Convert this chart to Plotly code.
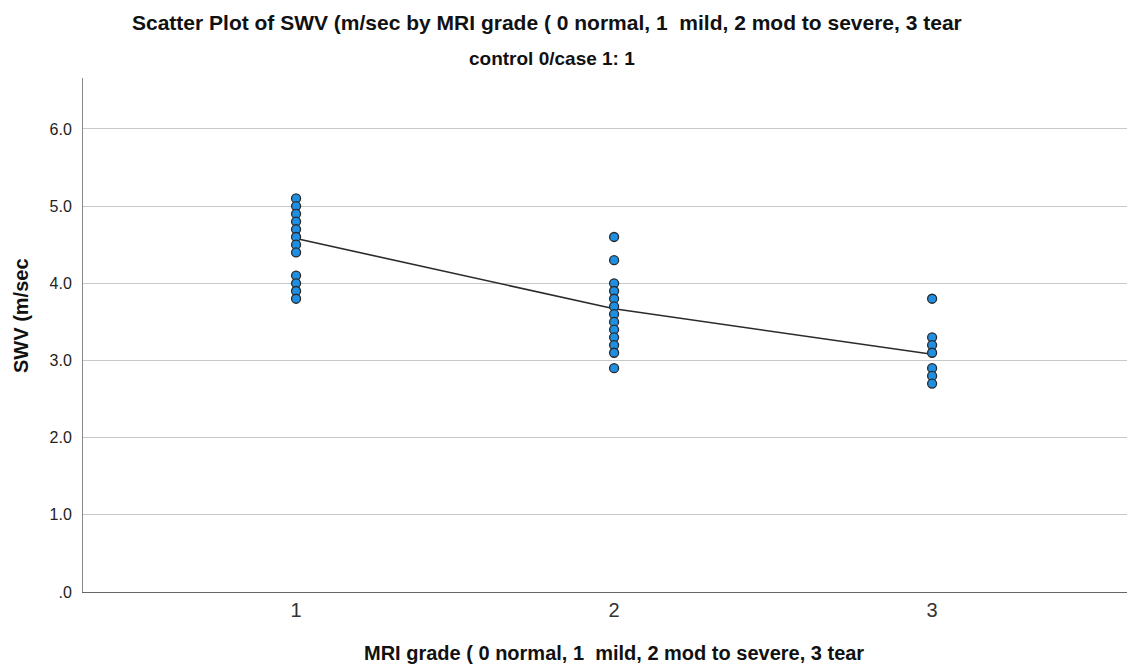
import plotly.graph_objects as go

grade1_swv = [5.1, 5.0, 4.9, 4.8, 4.7, 4.6, 4.5, 4.4, 4.1, 4.0, 3.9, 3.8]
grade2_swv = [4.6, 4.3, 4.0, 3.9, 3.8, 3.7, 3.6, 3.5, 3.4, 3.3, 3.2, 3.1, 2.9]
grade3_swv = [3.8, 3.3, 3.2, 3.1, 2.9, 2.8, 2.7]
grades = [1, 2, 3]
line_values = [4.58, 3.67, 3.08]
y_tickvals = [0, 1, 2, 3, 4, 5, 6]
y_ticktext = [".0", "1.0", "2.0", "3.0", "4.0", "5.0", "6.0"]
x_ticktext = ["1", "2", "3"]

xs, ys = [], []
for g, vals in zip(grades, [grade1_swv, grade2_swv, grade3_swv]):
    xs += [g] * len(vals)
    ys += vals

fig = go.Figure()
fig.add_trace(go.Scatter(x=grades, y=line_values, mode="lines",
                         line=dict(color="#2b2b2b", width=1.6), hoverinfo="skip"))
fig.add_trace(go.Scatter(x=xs, y=ys, mode="markers",
                         marker=dict(size=9, color="#1e8fe3",
                                     line=dict(color="#2a2a2a", width=1.3))))

fig.update_layout(
    width=1127, height=660,
    margin=dict(l=75, r=0, t=70, b=76),
    paper_bgcolor="white", plot_bgcolor="white",
    showlegend=False,
    font=dict(family="Liberation Sans, Arial, sans-serif", color="#111"),
    xaxis=dict(range=[0.330, 3.638], tickvals=grades, ticktext=x_ticktext,
               showgrid=False, zeroline=False, showline=True, linecolor="#666",
               linewidth=1, ticks="", tickfont=dict(size=20, color="#333")),
    yaxis=dict(range=[0, 6.66], tickvals=y_tickvals, ticktext=y_ticktext,
               showgrid=True, gridcolor="#c8c8c8", gridwidth=1, zeroline=False,
               showline=True, linecolor="#888", linewidth=1, ticks="",
               ticklabelstandoff=7,
               tickfont=dict(size=16, color="#222")),
)
fig.add_annotation(text="<b>Scatter Plot of SWV (m/sec by MRI grade ( 0 normal, 1  mild, 2 mod to severe, 3 tear</b>",
                   xref="paper", yref="paper", x=0.441, y=1, yshift=56,
                   yanchor="middle", showarrow=False, font=dict(size=21, color="#111"))
fig.add_annotation(text="<b>control 0/case 1: 1</b>",
                   xref="paper", yref="paper", x=0.446, y=1, yshift=20,
                   yanchor="middle", showarrow=False,
                   font=dict(size=19, color="#111"))
fig.add_annotation(text="<b>MRI grade ( 0 normal, 1  mild, 2 mod to severe, 3 tear</b>",
                   xref="paper", yref="paper", x=0.505, y=0, yshift=-61,
                   yanchor="middle", showarrow=False, font=dict(size=20, color="#111"))
fig.add_annotation(text="<b>SWV (m/sec</b>", textangle=-90,
                   xref="paper", yref="paper", x=0, xshift=-62, y=0.537,
                   xanchor="center", yanchor="middle", showarrow=False,
                   font=dict(size=20, color="#111"))
fig.write_html("out.html")
